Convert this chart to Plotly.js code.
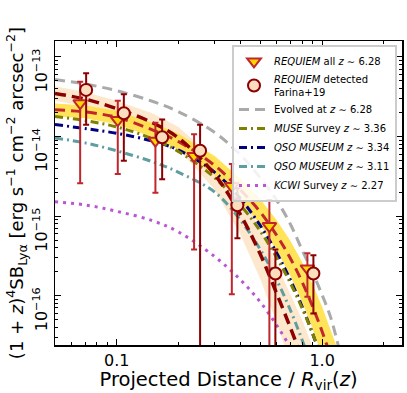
<!DOCTYPE html>
<html>
<head>
<meta charset="utf-8">
<script src="https://cdn.plot.ly/plotly-3.0.1.min.js"></script>
<style>html,body{margin:0;padding:0;background:#fff;} #plot{width:407px;height:393px;}</style>
</head>
<body>
<div id="plot"></div>
<script>
// Projected distance grid (R / R_vir) for the model curves
const R = [0.05, 0.07, 0.1, 0.15, 0.2, 0.3, 0.4, 0.5, 0.6, 0.7, 0.8, 0.9, 1.0, 1.1, 1.2];

// log10 of (1+z)^4 SB
const evolvedLog = [-13.285, -13.34, -13.425, -13.56, -13.69, -13.95, -14.23, -14.52, -14.80, -15.10, -15.43, -15.71, -15.99, -16.27, -16.63];
const fitAllLog  = [-13.665, -13.69, -13.76, -13.92, -14.065, -14.365, -14.67, -14.95, -15.24, -15.53, -15.83, -16.14, -16.45, -16.76, -17.07];
const fitAllUp   = [-13.585, -13.61, -13.675, -13.83, -13.965, -14.245, -14.53, -14.79, -15.05, -15.31, -15.58, -15.86, -16.14, -16.42, -16.70];
const fitAllLo   = [-13.745, -13.77, -13.845, -14.01, -14.165, -14.485, -14.81, -15.11, -15.43, -15.75, -16.08, -16.42, -16.76, -17.10, -17.44];
const fitDetLog  = [-13.46, -13.53, -13.65, -13.83, -14.02, -14.48, -14.98, -15.48, -15.97, -16.40, -16.80, -17.20, -17.60];
const fitDetUp   = [-13.37, -13.44, -13.55, -13.71, -13.88, -14.29, -14.73, -15.17, -15.60, -15.97, -16.31, -16.65, -16.99];
const fitDetLo   = [-13.55, -13.62, -13.75, -13.95, -14.16, -14.67, -15.23, -15.79, -16.34, -16.83, -17.29, -17.75, -18.21];
const museLog    = [-13.75, -13.80, -13.88, -14.03, -14.19, -14.52, -14.86, -15.19, -15.52, -15.84, -16.16, -16.48, -16.80];
const qsoM334Log = [-13.85, -13.90, -13.96, -14.06, -14.17, -14.45, -14.78, -15.12, -15.46, -15.80, -16.14, -16.48, -16.82];
const qsoM311Log = [-14.02, -14.08, -14.18, -14.32, -14.45, -14.70, -15.05, -15.42, -15.80, -16.18, -16.56, -16.94];
const kcwiLog    = [-14.82, -14.86, -14.94, -15.06, -15.20, -15.51, -15.80, -16.08, -16.37, -16.65, -16.93];

// REQUIEM all (triangles)
const allR   = [0.0663, 0.1011, 0.1542, 0.2379, 0.3633, 0.5536, 0.8480];
const allSB  = [2.62e-14, 1.61e-14, 8.85e-15, 5.69e-15, 2.38e-15, 7.48e-16, 2.20e-16];
const allHi  = [4.89e-14, 2.82e-14, 1.49e-14, 1.07e-14, 4.51e-15, 1.59e-15, 3.40e-16];
const allLo  = [2.58e-15, 3.37e-15, 1.96e-15, 3.81e-16, 1.04e-16, 1e-19, 9.66e-17];
// REQUIEM detected (circles)
const detR   = [0.0709, 0.1082, 0.1663, 0.2545, 0.3867, 0.5922, 0.9070];
const detSB  = [3.85e-14, 1.96e-14, 9.77e-15, 6.63e-15, 1.37e-15, 1.90e-16, 1.90e-16];
const detHi  = [6.24e-14, 3.40e-14, 1.64e-14, 1.40e-14, 2.23e-15, 3.81e-16, 3.23e-16];
const detLo  = [1.40e-14, 4.97e-15, 2.90e-15, 1e-19, 5.25e-16, 1e-19, 5.97e-17];

const xMajor = [0.1, 1.0];
const xMajorText = ['0.1', '1.0'];
const xMinor = [0.05, 0.06, 0.07, 0.08, 0.09, 0.2, 0.3, 0.4, 0.5, 0.6, 0.7, 0.8, 0.9, 2];
const yMajor = [1e-13, 1e-14, 1e-15, 1e-16];
const yMajorText = ['10<sup>−13</sup>', '10<sup>−14</sup>', '10<sup>−15</sup>', '10<sup>−16</sup>'];
const yMinor = [];
[-17, -16, -15, -14, -13].forEach(e => { for (let m = 2; m <= 9; m++) yMinor.push(m * Math.pow(10, e)); });

const pw = a => a.map(v => Math.pow(10, v));
const xs = a => R.slice(0, a.length);
const hide = {showlegend: false, hoverinfo: 'skip'};

const traces = [
  // peach band (detected fit)
  Object.assign({x: xs(fitDetLo), y: pw(fitDetLo), mode: 'lines', line: {width: 0, color: 'rgba(0,0,0,0)'}, type: 'scatter'}, hide),
  Object.assign({x: xs(fitDetUp), y: pw(fitDetUp), mode: 'lines', line: {width: 0, color: 'rgba(0,0,0,0)'}, fill: 'tonexty', fillcolor: 'rgba(253,228,196,0.85)', type: 'scatter'}, hide),
  // yellow band (all fit)
  Object.assign({x: xs(fitAllLo), y: pw(fitAllLo), mode: 'lines', line: {width: 0, color: 'rgba(0,0,0,0)'}, type: 'scatter'}, hide),
  Object.assign({x: xs(fitAllUp), y: pw(fitAllUp), mode: 'lines', line: {width: 0, color: 'rgba(0,0,0,0)'}, fill: 'tonexty', fillcolor: 'rgba(255,222,60,0.85)', type: 'scatter'}, hide),
  {x: xs(kcwiLog), y: pw(kcwiLog), mode: 'lines', name: '<i>KCWI</i> Survey <i>z</i> ∼ 2.27', legendrank: 7,
   line: {color: '#BA55D3', width: 3, dash: '3px,5px', shape: 'spline'}, hoverinfo: 'skip'},
  {x: xs(qsoM311Log), y: pw(qsoM311Log), mode: 'lines', name: '<i>QSO MUSEUM</i> <i>z</i> ∼ 3.11', legendrank: 6,
   line: {color: '#5F9EA0', width: 3, dash: '8px,4px,2px,4px', shape: 'spline'}, hoverinfo: 'skip'},
  {x: xs(qsoM334Log), y: pw(qsoM334Log), mode: 'lines', name: '<i>QSO MUSEUM</i> <i>z</i> ∼ 3.34', legendrank: 5,
   line: {color: '#000080', width: 3, dash: '8px,4px,2px,4px', shape: 'spline'}, hoverinfo: 'skip'},
  {x: xs(museLog), y: pw(museLog), mode: 'lines', name: '<i>MUSE</i> Survey <i>z</i> ∼ 3.36', legendrank: 4,
   line: {color: '#808000', width: 3, dash: '8px,4px,2px,4px', shape: 'spline'}, hoverinfo: 'skip'},
  {x: xs(evolvedLog), y: pw(evolvedLog), mode: 'lines', name: 'Evolved at <i>z</i> ∼ 6.28', legendrank: 3,
   line: {color: '#AAAAAA', width: 3, dash: '10px,6px', shape: 'spline'}, hoverinfo: 'skip'},
  Object.assign({x: xs(fitAllLog), y: pw(fitAllLog), mode: 'lines',
   line: {color: '#C0272D', width: 3, dash: '10px,6px', shape: 'spline'}, type: 'scatter'}, hide),
  Object.assign({x: xs(fitDetLog), y: pw(fitDetLog), mode: 'lines',
   line: {color: '#8B0000', width: 3.5, dash: '11px,6px', shape: 'spline'}, type: 'scatter'}, hide),
  {x: allR, y: allSB, mode: 'markers', name: '<i>REQUIEM</i> all <i>z</i> ∼ 6.28', legendrank: 1,
   marker: {symbol: 'triangle-down', size: 12, color: '#FFD700', line: {color: '#C0272D', width: 2}},
   error_y: {type: 'data', symmetric: false, array: allHi.map((v, i) => v - allSB[i]), arrayminus: allLo.map((v, i) => allSB[i] - v),
             color: '#C0272D', thickness: 2, width: 3}, hoverinfo: 'skip'},
  {x: detR, y: detSB, mode: 'markers', name: '<i>REQUIEM</i> detected<br>Farina+19', legendrank: 2,
   marker: {symbol: 'circle', size: 12, color: '#FCDDBE', line: {color: '#8B0000', width: 2}},
   error_y: {type: 'data', symmetric: false, array: detHi.map((v, i) => v - detSB[i]), arrayminus: detLo.map((v, i) => detSB[i] - v),
             color: '#8B0000', thickness: 2, width: 3}, hoverinfo: 'skip'}
];

const font = {family: 'DejaVu Sans', color: '#000'};
const layout = {
  width: 407, height: 393,
  margin: {l: 55, r: 5, t: 41, b: 48},
  paper_bgcolor: '#fff', plot_bgcolor: '#fff',
  font: font,
  showlegend: true,
  legend: {x: 0.9856, xanchor: 'right', y: 0.987, yanchor: 'top', traceorder: 'normal',
           bgcolor: 'rgba(255,255,255,0.85)', bordercolor: '#CCCCCC', borderwidth: 2,
           font: {family: 'DejaVu Sans', size: 10, color: '#000'}, itemwidth: 30, tracegroupgap: 0},
  xaxis: {type: 'log', range: [Math.log10(0.05), Math.log10(2.45)],
          tickmode: 'array', tickvals: xMajor, ticktext: xMajorText,
          ticks: 'inside', ticklen: 6, tickwidth: 1, tickcolor: '#000',
          minor: {tickmode: 'array', tickvals: xMinor, ticks: 'inside', ticklen: 3, tickcolor: '#000', tickwidth: 1},
          showline: true, linecolor: '#000', linewidth: 1.5, mirror: 'allticks',
          showgrid: false, zeroline: false,
          tickfont: {family: 'DejaVu Sans', size: 16, color: '#000'},
          title: {text: 'Projected Distance / <i>R</i><sub>vir</sub>(<i>z</i>)', font: {family: 'DejaVu Sans', size: 19.5, color: '#000'}, standoff: 2}},
  yaxis: {type: 'log', range: [-16.62, -12.80],
          tickmode: 'array', tickvals: yMajor, ticktext: yMajorText, tickangle: -90, ticklabelshift: 16,
          ticks: 'inside', ticklen: 6, tickwidth: 1, tickcolor: '#000',
          minor: {tickmode: 'array', tickvals: yMinor, ticks: 'inside', ticklen: 3, tickcolor: '#000', tickwidth: 1},
          showline: true, linecolor: '#000', linewidth: 1.5, mirror: 'allticks',
          showgrid: false, zeroline: false,
          tickfont: {family: 'DejaVu Sans', size: 16, color: '#000'},
          title: {text: '(1 + <i>z</i>)<sup>4</sup>SB<sub>Lyα</sub> [erg s<sup>−1</sup> cm<sup>−2</sup> arcsec<sup>−2</sup>]', font: {family: 'DejaVu Sans', size: 18, color: '#000'}, standoff: 2}}
};

Plotly.newPlot('plot', traces, layout, {staticPlot: true, displayModeBar: false});
</script>
</body>
</html>
